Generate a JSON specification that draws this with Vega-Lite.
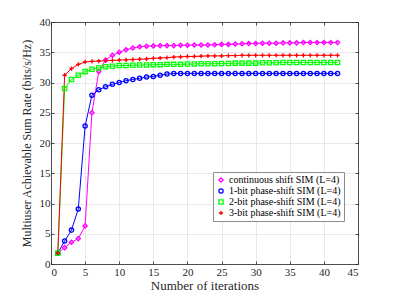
{
  "$schema": "https://vega.github.io/schema/vega-lite/v6.json",
  "width": 307,
  "height": 242,
  "autosize": {"type": "none"},
  "padding": {"left": 51, "top": 22, "right": 39, "bottom": 33},
  "config": {
    "font": "Liberation Serif",
    "view": {"stroke": null},
    "axis": {
      "labelFont": "Liberation Serif",
      "titleFont": "Liberation Serif",
      "labelFontSize": 11,
      "titleFontSize": 13,
      "titleFontWeight": "normal",
      "labelColor": "#262626",
      "titleColor": "#262626",
      "domainColor": "#262626",
      "tickColor": "#262626",
      "gridColor": "#e8e8e8",
      "gridOpacity": 1,
      "tickSize": -3,
      "domainWidth": 0.8,
      "tickWidth": 0.8
    },
    "legend": {
      "labelFont": "Liberation Serif",
      "labelFontSize": 10,
      "labelColor": "#000000",
      "labelLimit": 300,
      "orient": "none",
      "legendX": 162,
      "legendY": 150,
      "fillColor": "#ffffff",
      "strokeColor": "#8c8c8c",
      "padding": 3,
      "rowPadding": 1,
      "symbolSize": 18,
      "symbolStrokeWidth": 1.3,
      "labelOffset": 3
    }
  },
  "data": {"values": [
    {"i":1,"s":"continuous shift SIM (L=4)","v":1.8},{"i":2,"s":"continuous shift SIM (L=4)","v":2.7},{"i":3,"s":"continuous shift SIM (L=4)","v":3.6},{"i":4,"s":"continuous shift SIM (L=4)","v":4.2},{"i":5,"s":"continuous shift SIM (L=4)","v":6.3},{"i":6,"s":"continuous shift SIM (L=4)","v":25.0},{"i":7,"s":"continuous shift SIM (L=4)","v":31.8},{"i":8,"s":"continuous shift SIM (L=4)","v":33.7},{"i":9,"s":"continuous shift SIM (L=4)","v":34.5},{"i":10,"s":"continuous shift SIM (L=4)","v":35.0},{"i":11,"s":"continuous shift SIM (L=4)","v":35.4},{"i":12,"s":"continuous shift SIM (L=4)","v":35.7},{"i":13,"s":"continuous shift SIM (L=4)","v":35.9},{"i":14,"s":"continuous shift SIM (L=4)","v":36.0},{"i":15,"s":"continuous shift SIM (L=4)","v":36.05},{"i":16,"s":"continuous shift SIM (L=4)","v":36.1},{"i":17,"s":"continuous shift SIM (L=4)","v":36.1},{"i":18,"s":"continuous shift SIM (L=4)","v":36.1},{"i":19,"s":"continuous shift SIM (L=4)","v":36.15},{"i":20,"s":"continuous shift SIM (L=4)","v":36.15},{"i":21,"s":"continuous shift SIM (L=4)","v":36.2},{"i":22,"s":"continuous shift SIM (L=4)","v":36.2},{"i":23,"s":"continuous shift SIM (L=4)","v":36.2},{"i":24,"s":"continuous shift SIM (L=4)","v":36.25},{"i":25,"s":"continuous shift SIM (L=4)","v":36.3},{"i":26,"s":"continuous shift SIM (L=4)","v":36.3},{"i":27,"s":"continuous shift SIM (L=4)","v":36.35},{"i":28,"s":"continuous shift SIM (L=4)","v":36.4},{"i":29,"s":"continuous shift SIM (L=4)","v":36.45},{"i":30,"s":"continuous shift SIM (L=4)","v":36.45},{"i":31,"s":"continuous shift SIM (L=4)","v":36.5},{"i":32,"s":"continuous shift SIM (L=4)","v":36.5},{"i":33,"s":"continuous shift SIM (L=4)","v":36.5},{"i":34,"s":"continuous shift SIM (L=4)","v":36.55},{"i":35,"s":"continuous shift SIM (L=4)","v":36.55},{"i":36,"s":"continuous shift SIM (L=4)","v":36.55},{"i":37,"s":"continuous shift SIM (L=4)","v":36.6},{"i":38,"s":"continuous shift SIM (L=4)","v":36.6},{"i":39,"s":"continuous shift SIM (L=4)","v":36.6},{"i":40,"s":"continuous shift SIM (L=4)","v":36.6},{"i":41,"s":"continuous shift SIM (L=4)","v":36.6},{"i":42,"s":"continuous shift SIM (L=4)","v":36.6},
    {"i":1,"s":"1-bit phase-shift SIM (L=4)","v":1.8},{"i":2,"s":"1-bit phase-shift SIM (L=4)","v":3.8},{"i":3,"s":"1-bit phase-shift SIM (L=4)","v":5.6},{"i":4,"s":"1-bit phase-shift SIM (L=4)","v":9.1},{"i":5,"s":"1-bit phase-shift SIM (L=4)","v":22.8},{"i":6,"s":"1-bit phase-shift SIM (L=4)","v":27.9},{"i":7,"s":"1-bit phase-shift SIM (L=4)","v":28.8},{"i":8,"s":"1-bit phase-shift SIM (L=4)","v":29.3},{"i":9,"s":"1-bit phase-shift SIM (L=4)","v":29.7},{"i":10,"s":"1-bit phase-shift SIM (L=4)","v":30.0},{"i":11,"s":"1-bit phase-shift SIM (L=4)","v":30.3},{"i":12,"s":"1-bit phase-shift SIM (L=4)","v":30.5},{"i":13,"s":"1-bit phase-shift SIM (L=4)","v":30.7},{"i":14,"s":"1-bit phase-shift SIM (L=4)","v":30.9},{"i":15,"s":"1-bit phase-shift SIM (L=4)","v":31.0},{"i":16,"s":"1-bit phase-shift SIM (L=4)","v":31.2},{"i":17,"s":"1-bit phase-shift SIM (L=4)","v":31.4},{"i":18,"s":"1-bit phase-shift SIM (L=4)","v":31.5},{"i":19,"s":"1-bit phase-shift SIM (L=4)","v":31.5},{"i":20,"s":"1-bit phase-shift SIM (L=4)","v":31.5},{"i":21,"s":"1-bit phase-shift SIM (L=4)","v":31.5},{"i":22,"s":"1-bit phase-shift SIM (L=4)","v":31.5},{"i":23,"s":"1-bit phase-shift SIM (L=4)","v":31.5},{"i":24,"s":"1-bit phase-shift SIM (L=4)","v":31.5},{"i":25,"s":"1-bit phase-shift SIM (L=4)","v":31.5},{"i":26,"s":"1-bit phase-shift SIM (L=4)","v":31.5},{"i":27,"s":"1-bit phase-shift SIM (L=4)","v":31.5},{"i":28,"s":"1-bit phase-shift SIM (L=4)","v":31.5},{"i":29,"s":"1-bit phase-shift SIM (L=4)","v":31.5},{"i":30,"s":"1-bit phase-shift SIM (L=4)","v":31.5},{"i":31,"s":"1-bit phase-shift SIM (L=4)","v":31.5},{"i":32,"s":"1-bit phase-shift SIM (L=4)","v":31.5},{"i":33,"s":"1-bit phase-shift SIM (L=4)","v":31.5},{"i":34,"s":"1-bit phase-shift SIM (L=4)","v":31.5},{"i":35,"s":"1-bit phase-shift SIM (L=4)","v":31.5},{"i":36,"s":"1-bit phase-shift SIM (L=4)","v":31.5},{"i":37,"s":"1-bit phase-shift SIM (L=4)","v":31.5},{"i":38,"s":"1-bit phase-shift SIM (L=4)","v":31.5},{"i":39,"s":"1-bit phase-shift SIM (L=4)","v":31.5},{"i":40,"s":"1-bit phase-shift SIM (L=4)","v":31.5},{"i":41,"s":"1-bit phase-shift SIM (L=4)","v":31.5},{"i":42,"s":"1-bit phase-shift SIM (L=4)","v":31.5},
    {"i":1,"s":"2-bit phase-shift SIM (L=4)","v":1.8},{"i":2,"s":"2-bit phase-shift SIM (L=4)","v":29.0},{"i":3,"s":"2-bit phase-shift SIM (L=4)","v":30.5},{"i":4,"s":"2-bit phase-shift SIM (L=4)","v":31.2},{"i":5,"s":"2-bit phase-shift SIM (L=4)","v":31.8},{"i":6,"s":"2-bit phase-shift SIM (L=4)","v":32.2},{"i":7,"s":"2-bit phase-shift SIM (L=4)","v":32.4},{"i":8,"s":"2-bit phase-shift SIM (L=4)","v":32.6},{"i":9,"s":"2-bit phase-shift SIM (L=4)","v":32.7},{"i":10,"s":"2-bit phase-shift SIM (L=4)","v":32.8},{"i":11,"s":"2-bit phase-shift SIM (L=4)","v":32.8},{"i":12,"s":"2-bit phase-shift SIM (L=4)","v":32.85},{"i":13,"s":"2-bit phase-shift SIM (L=4)","v":32.9},{"i":14,"s":"2-bit phase-shift SIM (L=4)","v":32.9},{"i":15,"s":"2-bit phase-shift SIM (L=4)","v":32.95},{"i":16,"s":"2-bit phase-shift SIM (L=4)","v":32.95},{"i":17,"s":"2-bit phase-shift SIM (L=4)","v":33.0},{"i":18,"s":"2-bit phase-shift SIM (L=4)","v":33.0},{"i":19,"s":"2-bit phase-shift SIM (L=4)","v":33.0},{"i":20,"s":"2-bit phase-shift SIM (L=4)","v":33.05},{"i":21,"s":"2-bit phase-shift SIM (L=4)","v":33.05},{"i":22,"s":"2-bit phase-shift SIM (L=4)","v":33.1},{"i":23,"s":"2-bit phase-shift SIM (L=4)","v":33.1},{"i":24,"s":"2-bit phase-shift SIM (L=4)","v":33.1},{"i":25,"s":"2-bit phase-shift SIM (L=4)","v":33.15},{"i":26,"s":"2-bit phase-shift SIM (L=4)","v":33.15},{"i":27,"s":"2-bit phase-shift SIM (L=4)","v":33.2},{"i":28,"s":"2-bit phase-shift SIM (L=4)","v":33.2},{"i":29,"s":"2-bit phase-shift SIM (L=4)","v":33.2},{"i":30,"s":"2-bit phase-shift SIM (L=4)","v":33.2},{"i":31,"s":"2-bit phase-shift SIM (L=4)","v":33.25},{"i":32,"s":"2-bit phase-shift SIM (L=4)","v":33.25},{"i":33,"s":"2-bit phase-shift SIM (L=4)","v":33.25},{"i":34,"s":"2-bit phase-shift SIM (L=4)","v":33.3},{"i":35,"s":"2-bit phase-shift SIM (L=4)","v":33.3},{"i":36,"s":"2-bit phase-shift SIM (L=4)","v":33.3},{"i":37,"s":"2-bit phase-shift SIM (L=4)","v":33.3},{"i":38,"s":"2-bit phase-shift SIM (L=4)","v":33.3},{"i":39,"s":"2-bit phase-shift SIM (L=4)","v":33.3},{"i":40,"s":"2-bit phase-shift SIM (L=4)","v":33.3},{"i":41,"s":"2-bit phase-shift SIM (L=4)","v":33.3},{"i":42,"s":"2-bit phase-shift SIM (L=4)","v":33.3},
    {"i":1,"s":"3-bit phase-shift SIM (L=4)","v":1.8},{"i":2,"s":"3-bit phase-shift SIM (L=4)","v":31.2},{"i":3,"s":"3-bit phase-shift SIM (L=4)","v":32.3},{"i":4,"s":"3-bit phase-shift SIM (L=4)","v":33.0},{"i":5,"s":"3-bit phase-shift SIM (L=4)","v":33.4},{"i":6,"s":"3-bit phase-shift SIM (L=4)","v":33.5},{"i":7,"s":"3-bit phase-shift SIM (L=4)","v":33.55},{"i":8,"s":"3-bit phase-shift SIM (L=4)","v":33.6},{"i":9,"s":"3-bit phase-shift SIM (L=4)","v":33.65},{"i":10,"s":"3-bit phase-shift SIM (L=4)","v":33.7},{"i":11,"s":"3-bit phase-shift SIM (L=4)","v":33.75},{"i":12,"s":"3-bit phase-shift SIM (L=4)","v":33.8},{"i":13,"s":"3-bit phase-shift SIM (L=4)","v":33.85},{"i":14,"s":"3-bit phase-shift SIM (L=4)","v":33.9},{"i":15,"s":"3-bit phase-shift SIM (L=4)","v":34.0},{"i":16,"s":"3-bit phase-shift SIM (L=4)","v":34.05},{"i":17,"s":"3-bit phase-shift SIM (L=4)","v":34.1},{"i":18,"s":"3-bit phase-shift SIM (L=4)","v":34.2},{"i":19,"s":"3-bit phase-shift SIM (L=4)","v":34.25},{"i":20,"s":"3-bit phase-shift SIM (L=4)","v":34.3},{"i":21,"s":"3-bit phase-shift SIM (L=4)","v":34.3},{"i":22,"s":"3-bit phase-shift SIM (L=4)","v":34.35},{"i":23,"s":"3-bit phase-shift SIM (L=4)","v":34.4},{"i":24,"s":"3-bit phase-shift SIM (L=4)","v":34.4},{"i":25,"s":"3-bit phase-shift SIM (L=4)","v":34.4},{"i":26,"s":"3-bit phase-shift SIM (L=4)","v":34.45},{"i":27,"s":"3-bit phase-shift SIM (L=4)","v":34.45},{"i":28,"s":"3-bit phase-shift SIM (L=4)","v":34.5},{"i":29,"s":"3-bit phase-shift SIM (L=4)","v":34.5},{"i":30,"s":"3-bit phase-shift SIM (L=4)","v":34.5},{"i":31,"s":"3-bit phase-shift SIM (L=4)","v":34.5},{"i":32,"s":"3-bit phase-shift SIM (L=4)","v":34.5},{"i":33,"s":"3-bit phase-shift SIM (L=4)","v":34.5},{"i":34,"s":"3-bit phase-shift SIM (L=4)","v":34.5},{"i":35,"s":"3-bit phase-shift SIM (L=4)","v":34.5},{"i":36,"s":"3-bit phase-shift SIM (L=4)","v":34.5},{"i":37,"s":"3-bit phase-shift SIM (L=4)","v":34.5},{"i":38,"s":"3-bit phase-shift SIM (L=4)","v":34.5},{"i":39,"s":"3-bit phase-shift SIM (L=4)","v":34.5},{"i":40,"s":"3-bit phase-shift SIM (L=4)","v":34.5},{"i":41,"s":"3-bit phase-shift SIM (L=4)","v":34.5},{"i":42,"s":"3-bit phase-shift SIM (L=4)","v":34.5}
  ]},
  "resolve": {"axis": {"x": "independent", "y": "independent"}},
  "layer": [
    {
      "mark": {"type": "rule", "opacity": 0},
      "encoding": {
        "x": {"field": "i", "type": "quantitative", "scale": {"domain": [0, 45], "nice": false},
          "axis": {"orient": "top", "values": [0,5,10,15,20,25,30,35,40,45], "labels": false, "title": null, "grid": false}},
        "y": {"field": "v", "type": "quantitative", "scale": {"domain": [0, 40], "nice": false},
          "axis": {"orient": "right", "values": [0,5,10,15,20,25,30,35,40], "labels": false, "title": null, "grid": false}}
      }
    },
    {
      "mark": {"type": "line", "strokeWidth": 1},
      "encoding": {
        "x": {"field": "i", "type": "quantitative", "scale": {"domain": [0, 45], "nice": false},
          "axis": {"orient": "bottom", "values": [0,5,10,15,20,25,30,35,40,45], "title": "Number of iterations", "grid": true, "labelPadding": 5, "titlePadding": 2}},
        "y": {"field": "v", "type": "quantitative", "scale": {"domain": [0, 40], "nice": false},
          "axis": {"orient": "left", "values": [0,5,10,15,20,25,30,35,40], "title": "Multiuser Achievable Sum Rate (bits/s/Hz)", "grid": true, "labelPadding": 4, "titlePadding": 6, "titleFontSize": 12}},
        "color": {"field": "s", "type": "nominal",
          "scale": {"domain": ["continuous shift SIM (L=4)", "1-bit phase-shift SIM (L=4)", "2-bit phase-shift SIM (L=4)", "3-bit phase-shift SIM (L=4)"],
                    "range": ["#ff00ff", "#0000ff", "#00ff00", "#ff0000"]},
          "legend": {"title": null}}
      }
    },
    {
      "mark": {"type": "point", "filled": false, "strokeWidth": 1.3, "size": 18, "opacity": 1},
      "encoding": {
        "x": {"field": "i", "type": "quantitative", "axis": null},
        "y": {"field": "v", "type": "quantitative", "axis": null},
        "color": {"field": "s", "type": "nominal", "legend": {"title": null}},
        "shape": {"field": "s", "type": "nominal",
          "scale": {"domain": ["continuous shift SIM (L=4)", "1-bit phase-shift SIM (L=4)", "2-bit phase-shift SIM (L=4)", "3-bit phase-shift SIM (L=4)"],
                    "range": ["diamond", "circle", "square", "M-1,0H1M0,-1V1"]},
          "legend": {"title": null}}
      }
    }
  ]
}
